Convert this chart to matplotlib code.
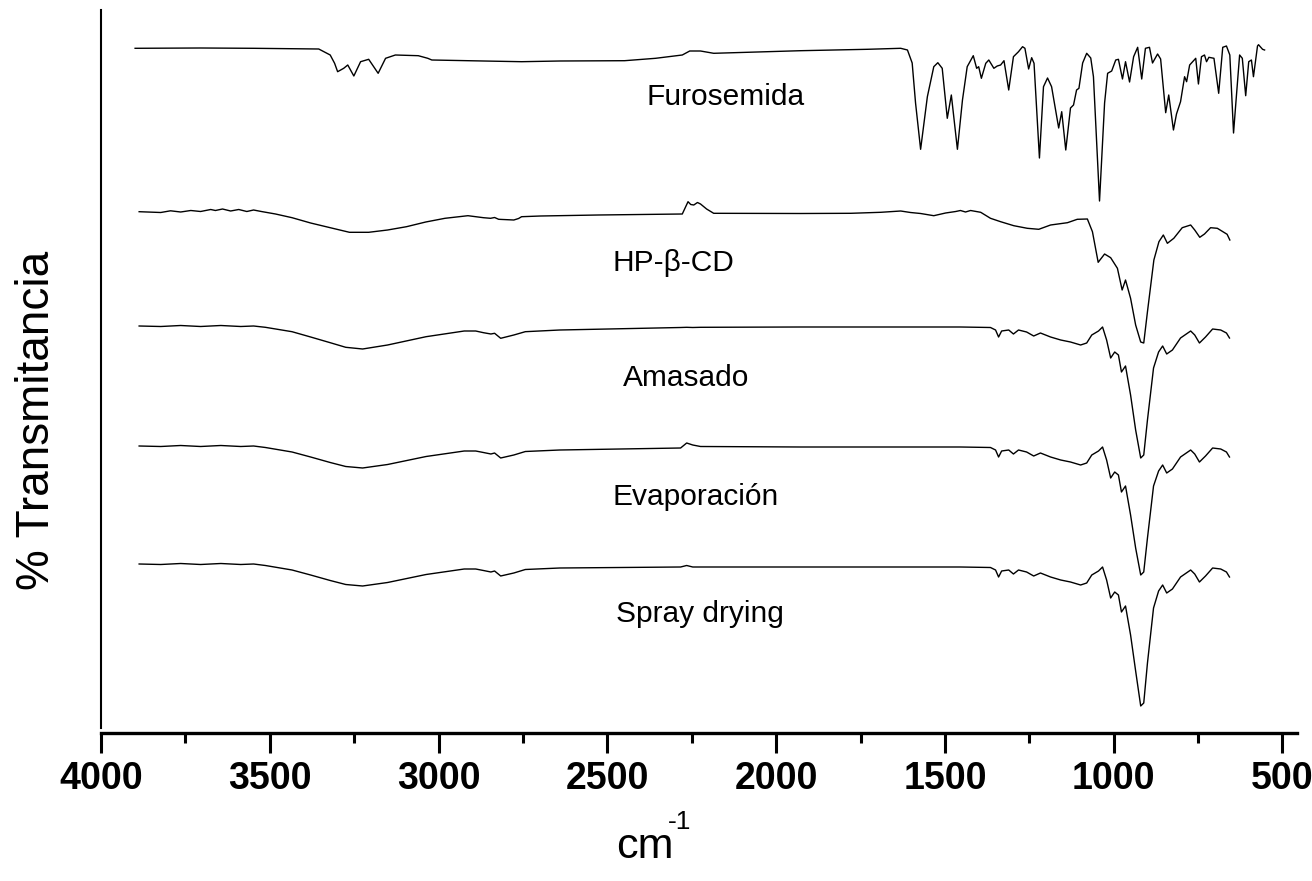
import matplotlib
matplotlib.use("Agg")
import matplotlib.pyplot as plt
from matplotlib.ticker import MultipleLocator

# ---------------- data (wavenumber in cm-1, transmittance in arbitrary offset units) -------------
furo_wn = [3899, 3705, 3548, 3355, 3321, 3308, 3299, 3281, 3269, 3251, 3231, 3207, 3179, 3157,
           3128, 3060, 3032, 3020, 2867, 2754, 2641, 2449, 2357, 2278, 2256, 2224, 2185, 1927,
           1730, 1631, 1611, 1597, 1587, 1572, 1552, 1533, 1521, 1508, 1493, 1481, 1463, 1448,
           1434, 1416, 1406, 1400, 1392, 1379, 1370, 1355, 1345, 1335, 1325, 1311, 1297, 1282,
           1270, 1263, 1252, 1243, 1236, 1220, 1208, 1196, 1184, 1163, 1154, 1142, 1128, 1119,
           1110, 1103, 1092, 1080, 1068, 1060, 1042, 1027, 1018, 1006, 994, 986, 974, 965, 953,
           941, 929, 917, 906, 894, 885, 870, 861, 846, 837, 823, 814, 802, 790, 784, 775, 757,
           749, 740, 731, 725, 718, 703, 689, 677, 666, 656, 645, 639, 627, 619, 609, 600, 592,
           586, 574, 571, 559, 553]
furo_t = [684.7, 685, 684.7, 684, 678, 669.7, 661.3, 664.7, 668, 657, 671.3, 673.7, 659.7, 674.7,
          678, 677.3, 674.7, 673, 672, 671.3, 672, 672.3, 674.7, 678, 682, 682, 679.7, 682.3,
          683.7, 684.7, 683, 670, 630, 583.7, 636.3, 666.3, 670.3, 664.7, 614.7, 638, 583.7, 633,
          666.3, 677.3, 664.7, 666.3, 654.7, 669.7, 673, 664.7, 667, 668, 672.3, 643, 676.3, 681.3,
          686.3, 684.7, 664, 675.3, 669.7, 575, 646.3, 655, 646.3, 605, 621.3, 583, 625, 628,
          643, 644.7, 670, 679.7, 675, 656.3, 532, 630, 659.7, 662, 673, 673.7, 654, 671.3, 651,
          676.3, 685.7, 654, 684.7, 685.7, 670, 679, 674, 620.3, 638, 603, 619, 631.3, 656.3, 651.3, 668, 674.7,
          649, 676.3, 678, 671.3, 675.7, 674.7, 639.7, 685.7, 687, 678, 600, 626.3, 678, 674.7, 637.3, 671.3, 673,
          656.3, 687, 688.3, 683.7, 683]

hp_wn = [3887, 3823, 3794, 3764, 3734, 3705, 3675, 3661, 3640, 3616, 3592, 3568, 3548, 3525,
         3483, 3434, 3379, 3321, 3264, 3207, 3151, 3095, 3038, 2981, 2913, 2867, 2846, 2834,
         2822, 2777, 2763, 2754, 2698, 2527, 2278, 2261, 2253, 2244, 2233, 2224, 2206, 2185,
         1927, 1779, 1690, 1631, 1602, 1572, 1533, 1498, 1468, 1454, 1439, 1424, 1394, 1365,
         1335, 1296, 1256, 1222, 1187, 1137, 1108, 1078, 1063, 1046, 1027, 1009, 989, 975, 965,
         950, 935, 920, 911, 900, 881, 866, 853, 841, 822, 797, 772, 760, 745, 731, 713, 693,
         664, 656]
hp_t = [521.3, 520.5, 522.2, 521, 522.5, 521.5, 523.5, 522.5, 524, 522, 523.5, 521.5, 523, 521.5,
        519, 515.3, 510, 505.3, 500.7, 500.7, 503, 506.3, 511, 514.7, 517.3, 515.3, 514.7, 515.5,
        513.7, 513, 514.5, 516.3, 517, 518, 519, 531.3, 528.5, 528, 530.5, 529, 524, 519.7,
        519.5, 519.7, 520.7, 522, 520.5, 519.5, 517.3, 520, 521.5, 522.5, 521, 522.5, 520.7, 514.7,
        511.3, 507.3, 504.7, 503.7, 508, 510.3, 513.7, 514, 501.3, 470.7, 479, 475.3, 464.7, 443, 453,
        434.7, 408, 391, 390, 421.3, 473, 491.3, 498, 489.7, 494.7, 505.3, 508, 503, 495.7, 499, 505.3, 504.7,
        498.7, 493]

low_wn = [3887, 3823, 3764, 3705, 3645, 3586, 3548, 3513, 3434, 3379, 3321, 3275, 3225, 3151,
          3037, 2924, 2890, 2867, 2845, 2834, 2816, 2777, 2743, 2641, 2283, 2265, 2247, 2224,
          1927, 1631, 1454, 1365, 1350, 1341, 1332, 1311, 1297, 1282, 1258, 1237, 1217, 1187,
          1157, 1128, 1098, 1080, 1065, 1045, 1033, 1021, 1009, 997, 986, 977, 965, 950, 935,
          920, 911, 900, 882, 867, 855, 843, 826, 802, 772, 760, 746, 728, 707, 683, 666, 657]
amas_t = [407, 406.5, 407.5, 406.5, 407.5, 406.5, 407, 405.7, 401.3, 396, 390.3, 385.7, 384, 388,
          396.3, 402, 402, 400.3, 399, 399.7, 394.7, 398, 401.3, 403, 405.5, 405.7, 405.5, 405.7,
          406, 406, 406, 405.5, 403, 396, 402, 403, 399, 403, 401, 397, 400, 396,
          393, 391, 388, 390, 398, 402, 406, 393, 375, 381, 378, 361, 367, 338, 303,
          275, 278, 313, 365, 381, 387, 379, 383, 395, 402, 398, 390, 396, 404, 403, 400, 395]
evap_t = [287, 286.5, 287.5, 286.5, 287.5, 286.5, 287, 285.5, 281, 276, 270.5, 266.5, 265, 268.5,
          276.5, 282, 282, 280.5, 279, 280, 275, 278, 281.5, 283, 285, 290, 288, 286.5,
          286, 286, 286, 285.5, 283, 276, 282, 283, 279, 283, 281, 277, 280, 276,
          273, 271, 268, 270, 278, 282, 286, 273, 255, 261, 258, 241, 247, 218, 185,
          158, 161, 195, 247, 262, 268, 260, 264, 276, 283, 279, 271, 277, 285, 284, 281, 276]
spray_t = [169, 168.5, 169.5, 168.5, 169.5, 168.5, 169, 167.5, 163, 158, 152.5, 148.5, 147, 150.5,
           158.5, 164, 164, 162.5, 161, 162, 157, 160, 163.5, 165, 166, 167.5, 166, 166,
           166, 166, 166, 165.5, 163, 156, 162, 163, 159, 163, 161, 157, 160, 156,
           153, 151, 148, 150, 158, 162, 166, 153, 135, 141, 138, 121, 127, 98, 62,
           27, 30, 70, 125, 142, 148, 140, 144, 156, 163, 159, 151, 157, 165, 164, 161, 156]

labels = ["Furosemida", "HP-\u03b2-CD", "Amasado", "Evaporación", "Spray drying"]
label_x = [2385, 2484, 2455, 2484, 2475]
label_y = [628, 462, 347, 228, 111]

major_ticks = [4000, 3500, 3000, 2500, 2000, 1500, 1000, 500]

# ---------------- figure ----------------
W, H = 1312, 881
fig = plt.figure(figsize=(W / 100, H / 100), dpi=100)
ax = fig.add_axes([101 / W, (H - 733) / H, (1297 - 101) / W, (733 - 10) / H])

series = [(furo_wn, furo_t), (hp_wn, hp_t), (low_wn, amas_t), (low_wn, evap_t), (low_wn, spray_t)]
for wn, t in series:
    ax.plot(wn, t, color="black", lw=1.0, solid_joinstyle="round")

for txt, x, y in zip(labels, label_x, label_y):
    ax.text(x, y, txt, fontsize=21.5, family=["Liberation Sans", "DejaVu Sans"],
            ha="left", va="baseline")

ax.set_xlim(4000, 457)
ax.set_ylim(0, 723)
ax.set_yticks([])
ax.set_xticks(major_ticks)
ax.set_xticklabels([str(v) for v in major_ticks])
ax.xaxis.set_minor_locator(MultipleLocator(250))
ax.tick_params(axis="x", which="major", direction="out", length=14.5, width=2.2, pad=6,
               labelsize=27)
ax.tick_params(axis="x", which="minor", direction="out", length=7.2, width=2.2)
for lab in ax.get_xticklabels():
    lab.set_family(["Liberation Sans Narrow", "Liberation Sans"])
    lab.set_fontweight("bold")

ax.spines["top"].set_visible(False)
ax.spines["right"].set_visible(False)
ax.spines["bottom"].set_linewidth(2.4)
ax.spines["left"].set_linewidth(1.5)
ax.spines["left"].set_bounds(5, 723)

fig.text(37 / W, 1 - 420 / H, "% Transmitancia", rotation=90, ha="center", va="center",
         fontsize=33, family=["Liberation Sans", "DejaVu Sans"])
fig.text(616 / W, 1 - 858 / H, "cm", ha="left", va="baseline", fontsize=31,
         family=["Liberation Sans Narrow", "Liberation Sans"])
fig.text(668 / W, 1 - 829 / H, "-1", ha="left", va="baseline", fontsize=19,
         family=["Liberation Sans Narrow", "Liberation Sans"])

fig.savefig("out.png", dpi=100)
